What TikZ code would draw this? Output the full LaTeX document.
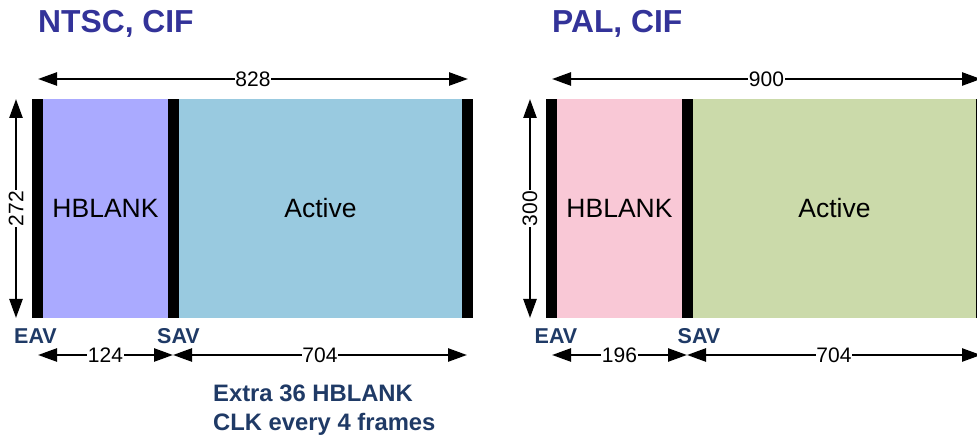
\documentclass[tikz,border=0pt]{standalone}
\usepackage{fontspec}
\setmainfont{Liberation Sans}
\usetikzlibrary{arrows.meta,positioning}
\definecolor{titleblue}{RGB}{51,51,153}
\definecolor{navy}{RGB}{31,58,102}
\definecolor{hbntsc}{RGB}{170,170,255}
\definecolor{actntsc}{RGB}{153,202,224}
\definecolor{hbpal}{RGB}{249,200,214}
\definecolor{actpal}{RGB}{203,218,170}

\begin{document}
\begin{tikzpicture}[x=1pt,y=-1pt,
  dim/.style={{Triangle[length=19pt,width=13pt]}-{Triangle[length=19pt,width=13pt]},line width=2.5pt},
  dimlabel/.style={fill=white,inner xsep=0.6pt,inner ysep=0pt,font=\fontsize{21}{21}\selectfont},
  region/.style={font=\fontsize{26.5}{26.5}\selectfont},
  title/.style={anchor=base west,inner sep=0pt,text=titleblue,font=\fontsize{31.8}{31.8}\selectfont\bfseries},
  marker/.style={inner sep=0pt,text=navy,font=\fontsize{21.5}{21.5}\selectfont\bfseries}]
  \clip (0,0) rectangle (977,435);

  % NTSC
  \node[title] (ntitle) at (38,33) {NTSC, CIF};
  \fill (32,99) rectangle (473,318);
  \fill[hbntsc] (43,99) rectangle (168,318);
  \fill[actntsc] (179,99) rectangle (462,318);
  \node[region] (nhb) at (105.5,208) {HBLANK};
  \node[region] (nact) at (320.5,208) {Active};
  \coordinate (nt1) at (38,79);
  \coordinate (nt2) at (468,79);
  \draw[dim] (nt1) -- node[dimlabel] (nw) {828} (nt2);
  \coordinate (nl1) at (16,99);
  \coordinate (nl2) at (16,318);
  \draw[dim] (nl1) -- node[dimlabel,rotate=90] (nh) {272} (nl2);
  \node[marker] (neav) at (35.5,336) {EAV};
  \node[marker] (nsav) at (178.5,336) {SAV};
  \coordinate (nb1) at (38,355);
  \coordinate (nb2) at (173,355);
  \coordinate (nb3) at (467,355);
  \draw[dim] (nb1) -- node[dimlabel] (nblank) {124} (nb2);
  \draw[dim] (nb2) -- node[dimlabel] (nactw) {704} (nb3);
  \node[marker,anchor=north west,align=left,font=\fontsize{23.8}{29}\selectfont\bfseries]
    (extra) at (213,385) {Extra 36 HBLANK\\CLK every 4 frames};

  % PAL
  \node[title] (ptitle) at (552,33) {PAL, CIF};
  \fill (546,99) rectangle (987,318);
  \fill[hbpal] (557,99) rectangle (682,318);
  \fill[actpal] (693,99) rectangle (976,318);
  \node[region] (phb) at (619.5,208) {HBLANK};
  \node[region] (pact) at (834.5,208) {Active};
  \coordinate (pt1) at (552,79);
  \coordinate (pt2) at (981,79);
  \draw[dim] (pt1) -- node[dimlabel] (pw) {900} (pt2);
  \coordinate (pl1) at (530,99);
  \coordinate (pl2) at (530,318);
  \draw[dim] (pl1) -- node[dimlabel,rotate=90] (ph) {300} (pl2);
  \node[marker] (peav) at (556,336) {EAV};
  \node[marker] (psav) at (699,336) {SAV};
  \coordinate (pb1) at (552,355);
  \coordinate (pb2) at (687,355);
  \coordinate (pb3) at (981,355);
  \draw[dim] (pb1) -- node[dimlabel] (pblank) {196} (pb2);
  \draw[dim] (pb2) -- node[dimlabel] (pactw) {704} (pb3);
\end{tikzpicture}
\end{document}
